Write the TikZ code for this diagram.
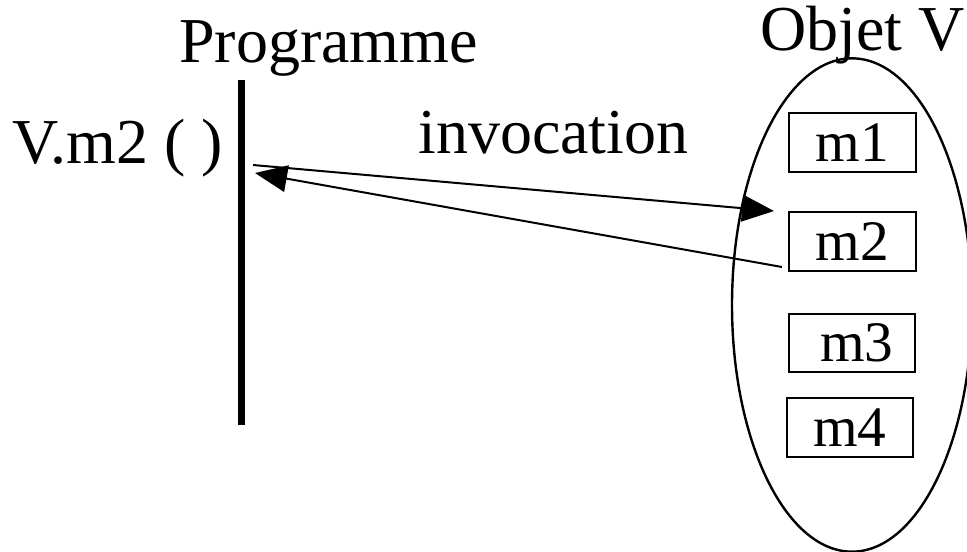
\documentclass[tikz,border=0pt]{standalone}
\usepackage{fontspec}
\setmainfont{Liberation Serif}
\usetikzlibrary{arrows.meta,shapes.geometric}
\begin{document}
\begin{tikzpicture}[x=0.75pt,y=-0.75pt,
  lbl/.style={inner sep=0pt,anchor=base west,font=\fontsize{48}{56}\selectfont},
  mbox/.style={draw,line width=1.6pt,minimum width=95pt,minimum height=44pt,inner sep=0pt,font=\fontsize{43}{50}\selectfont},
  conn/.style={line width=1.5pt,-{Triangle[length=24pt,width=20pt]}},
  every node/.append style={text=black}]
\useasboundingbox (0,0) rectangle (967,551);
\node[lbl] (prog) at (179,62) {Programme};
\node[lbl] (call) at (12,163) {V.m2 ( )};
\node[lbl] (inv) at (418,153) {invocation};
\node[lbl] (objv) at (760,50) {Objet V};
\coordinate (ltop) at (241.5,80);
\coordinate (lbot) at (241.5,425);
\draw[line width=5.3pt] (ltop) -- (lbot);
\node[draw,ellipse,line width=1.8pt,minimum width=180pt,minimum height=370pt,inner sep=0pt] (obj) at (852,305) {};
\node[mbox] (m1) at (852.5,142.5) {m1};
\node[mbox] (m2) at (852.5,241.5) {m2};
\node[mbox] (m3) at (852,343) {\,m3};
\node[mbox,minimum width=94.5pt] (m4) at (850,427.5) {m4};
\coordinate (a1s) at (253,165);
\coordinate (a1e) at (774,211);
\coordinate (a2s) at (782,267);
\coordinate (a2e) at (255,173);
\draw[conn] (a1s) -- (a1e);
\draw[conn] (a2s) -- (a2e);
\end{tikzpicture}
\end{document}
